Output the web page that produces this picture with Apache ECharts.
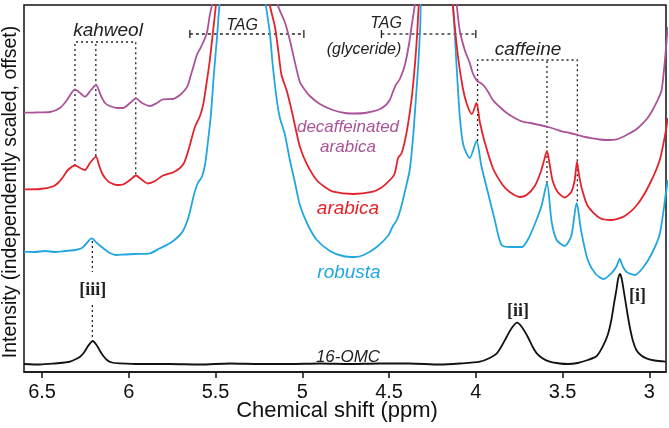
<!DOCTYPE html>
<html><head><meta charset="utf-8">
<script src="https://cdn.jsdelivr.net/npm/echarts@6/dist/echarts.min.js"></script>
<style>html,body{margin:0;padding:0;background:#fff}#c{width:669px;height:428px}</style>
</head><body><div id="c"></div>
<script>
// x tick labels (ppm)
const xTicks = [6.5, 6, 5.5, 5, 4.5, 4, 3.5, 3];
const xRange = [2.904, 6.604];
const yRange = [0, 367];

// traces: [ppm, intensity (arbitrary, offset)]; values above yRange max are clipped peaks
const decafArabica = [
[6.604,259.3],[6.541,259.5],[6.454,260],[6.397,264],[6.356,272],[6.310,282.7],[6.281,279],[6.253,275.3],[6.218,282],[6.189,287],[6.160,276],[6.137,269],[6.109,266],[6.068,264],[6.034,264],[5.993,269],[5.959,273.7],[5.924,269],[5.878,266],[5.838,269],[5.803,272.7],[5.746,273],[5.705,277],[5.677,282],[5.659,287],[5.642,297],[5.625,307],[5.608,317],[5.590,323],[5.573,329],[5.550,339],[5.533,357],[5.521,367],[5.510,392],
[5.152,392],[5.141,367],[5.101,350],[5.072,332],[5.043,310],[5.014,290],[4.985,282],[4.957,276],[4.899,268],[4.824,262],[4.755,259],[4.697,258.5],[4.640,259],[4.565,262],[4.525,266],[4.496,272],[4.478,280],[4.461,287],[4.438,293],[4.409,307],[4.386,327],[4.369,347],[4.352,367],[4.340,392],
[4.121,392],[4.110,367],[4.093,342],[4.064,322],[4.035,309],[4.018,299],[4.000,293],[3.987,290.3],[3.972,289],[3.949,285.3],[3.925,279],[3.902,272],[3.862,265],[3.822,259],[3.776,254],[3.730,250.3],[3.684,249],[3.632,247],[3.591,245.3],[3.545,243],[3.499,240.3],[3.459,239],[3.413,237],[3.367,235],[3.326,233.7],[3.286,232.5],[3.246,232],[3.188,232.7],[3.142,236],[3.113,238.7],[3.073,243],[3.038,248.7],[3.010,254],[2.981,262],[2.952,272],[2.929,282],[2.906,320],[2.894,345]
];
const arabica = [
[6.604,182.7],[6.512,183],[6.437,185.5],[6.408,189],[6.379,195],[6.351,202],[6.310,206.5],[6.281,204],[6.253,202],[6.224,209],[6.189,215.3],[6.172,207],[6.155,199],[6.132,193],[6.109,189.5],[6.068,187],[6.034,187.5],[5.993,192],[5.959,196.5],[5.930,193],[5.890,188.5],[5.849,191],[5.803,196.5],[5.746,199.5],[5.705,204],[5.682,209],[5.665,217],[5.648,227],[5.619,245],[5.590,256],[5.573,266],[5.556,284],[5.533,312],[5.515,340],[5.498,367],[5.487,392],
[5.199,392],[5.187,367],[5.158,345.3],[5.139,322],[5.120,297],[5.091,282],[5.062,262],[5.033,239],[5.014,225.3],[4.976,208.7],[4.918,192],[4.870,185],[4.822,180.3],[4.707,178],[4.592,180.3],[4.548,184],[4.515,188.7],[4.484,194],[4.467,198.7],[4.448,214],[4.428,218.7],[4.400,238.7],[4.371,272],[4.352,305.3],[4.338,338.7],[4.330,365.3],[4.323,392],
[4.144,392],[4.133,367],[4.104,317],[4.075,284],[4.052,268],[4.023,258],[3.996,269],[3.977,250],[3.949,230],[3.902,204],[3.845,187],[3.805,180],[3.747,175],[3.707,177],[3.660,186],[3.626,200],[3.606,212],[3.590,221],[3.574,207],[3.557,191],[3.528,180],[3.488,174.5],[3.450,180],[3.430,192],[3.417,210],[3.404,196],[3.390,184],[3.355,166],[3.286,154],[3.217,152],[3.142,156],[3.067,168],[2.998,188],[2.940,212],[2.906,240],[2.894,254]
];
const robusta = [
[6.604,120.3],[6.541,120],[6.483,121],[6.425,120],[6.368,121],[6.310,122],[6.270,124],[6.247,128],[6.214,133.7],[6.184,129],[6.147,123.7],[6.109,119],[6.074,117],[6.022,117.5],[5.965,118],[5.878,118.7],[5.821,123.7],[5.763,128.7],[5.717,135],[5.688,141],[5.665,150],[5.648,160],[5.625,177],[5.602,189],[5.579,195],[5.561,207],[5.544,230],[5.527,257],[5.510,297],[5.492,334],[5.478,367],[5.469,392],
[5.222,392],[5.210,367],[5.187,339],[5.170,306],[5.147,272],[5.129,254],[5.101,238],[5.072,212],[5.043,190],[5.014,167],[4.968,147],[4.916,132],[4.841,121],[4.766,116],[4.697,115],[4.646,117],[4.571,125],[4.507,136],[4.478,146],[4.455,152],[4.432,164],[4.404,184],[4.381,202],[4.363,232],[4.346,272],[4.332,307],[4.320,347],[4.311,392],
[4.144,392],[4.131,367],[4.113,312],[4.093,257],[4.072,227],[4.035,214],[3.996,231],[3.968,206],[3.931,180],[3.891,152],[3.852,127],[3.799,125],[3.735,125],[3.701,132],[3.655,150],[3.620,167],[3.590,189],[3.563,150],[3.534,132],[3.488,126],[3.450,136],[3.419,169],[3.393,141],[3.355,112],[3.309,98],[3.263,93],[3.217,99],[3.188,106],[3.171,113],[3.154,106],[3.131,100],[3.084,97],[3.038,104],[2.987,118],[2.940,138],[2.906,177],[2.894,192]
];
const omc16 = [
[6.604,8],[6.512,7.5],[6.425,8.5],[6.368,9.5],[6.339,10.3],[6.304,13],[6.281,15.3],[6.258,19.5],[6.235,26],[6.208,31],[6.184,26.5],[6.166,21],[6.149,16.5],[6.126,12],[6.097,9.5],[6.051,8.7],[5.936,8],[5.763,8],[5.590,7.5],[5.417,8.5],[5.245,8],[5.072,8],[4.899,8.5],[4.726,8],[4.553,8.5],[4.381,8.5],[4.208,7.5],[4.093,8.5],[3.977,10.3],[3.920,14],[3.879,18.7],[3.851,26],[3.822,35.3],[3.793,44],[3.762,49.3],[3.735,45],[3.701,35.3],[3.672,25],[3.649,18.7],[3.614,13.5],[3.574,10.3],[3.516,8.5],[3.470,8],[3.413,9],[3.355,12],[3.303,16],[3.269,25.3],[3.240,37],[3.219,52],[3.203,69],[3.190,82],[3.180,93],[3.169,98],[3.159,93],[3.142,75.3],[3.125,57],[3.113,45.3],[3.096,32],[3.075,22],[3.050,17],[3.017,13.7],[2.969,11.5],[2.906,10.3]
];

// annotation anchors (ppm, intensity)
const kahweolPeaks = [[6.31,206],[6.19,216],[5.96,197]];
const kahweolLevel = 330;
const caffeinePeaks = [[3.99,231],[3.59,189],[3.415,169]];
const caffeineLevel = 312;
const tagRanges = [[5.648,4.991],[4.544,4.0]];
const tagLevel = 338;
const peakIII = [6.21, 131, 100, 67, 34];

const chart = echarts.init(document.getElementById('c'), null, {renderer:'canvas'});
const ink = '#222';
const segs = [];
function seg(pts, type){ segs.push({type:'line', data:pts, showSymbol:false, silent:true, z:1, animation:false,
  lineStyle:{color:ink, width:1.3, type:type}}); }
// kahweol bracket
seg([[kahweolPeaks[0][0],kahweolPeaks[0][1]],[kahweolPeaks[0][0],kahweolLevel],[kahweolPeaks[2][0],kahweolLevel],[kahweolPeaks[2][0],kahweolPeaks[2][1]]],[2,3]);
seg([[kahweolPeaks[1][0],kahweolPeaks[1][1]],[kahweolPeaks[1][0],kahweolLevel]],[2,3]);
// caffeine bracket
seg([[caffeinePeaks[0][0],caffeinePeaks[0][1]],[caffeinePeaks[0][0],caffeineLevel],[caffeinePeaks[2][0],caffeineLevel],[caffeinePeaks[2][0],caffeinePeaks[2][1]]],[2,3]);
seg([[caffeinePeaks[1][0],caffeinePeaks[1][1]],[caffeinePeaks[1][0],caffeineLevel]],[2,3]);
// TAG brackets
tagRanges.forEach(r=>{
  seg([[r[0],tagLevel],[r[1],tagLevel]],[3,3]);
  seg([[r[0],tagLevel+4],[r[0],tagLevel-4]],'solid');
  seg([[r[1],tagLevel+4],[r[1],tagLevel-4]],'solid');
});
// [iii] guide
seg([[peakIII[0],peakIII[1]],[peakIII[0],peakIII[2]]],[2,3]);
seg([[peakIII[0],peakIII[3]],[peakIII[0],peakIII[4]]],[2,3]);

function trace(d,color){ return {type:'line', data:d, showSymbol:false, smooth:0.25, clip:true, z:3, animation:false,
  lineStyle:{color:color, width:1.8}}; }

const sans = 'Liberation Sans, Arial, sans-serif';
function txt(x,y,s,size,color,opts){ return Object.assign({type:'text', x:x, y:y, style:{text:s, fontSize:size, fontFamily:sans,
  fontStyle:'italic', fill:color, textAlign:'center', textVerticalAlign:'middle'}}, opts||{}); }
function serif(x,y,s){ return {type:'text', x:x, y:y, style:{text:s, fontSize:18, fontFamily:'Liberation Serif, serif', fontWeight:'bold',
  fill:ink, textAlign:'center', textVerticalAlign:'middle'}}; }

chart.setOption({
  animation:false,
  grid:{left:24, right:3, top:5, bottom:56, show:true, borderColor:'#111', borderWidth:1.5},
  xAxis:{type:'value', min:xRange[0], max:xRange[1], inverse:true,
    axisLine:{show:true, lineStyle:{color:'#111', width:1.5}},
    axisTick:{show:true, length:6, lineStyle:{color:'#111', width:1.5}, customValues:xTicks},
    axisLabel:{customValues:xTicks, fontSize:20, color:'#111', margin:10, fontFamily:sans},
    splitLine:{show:false}},
  yAxis:{type:'value', min:yRange[0], max:yRange[1], axisLine:{show:false}, axisTick:{show:false},
    axisLabel:{show:false}, splitLine:{show:false}},
  series: segs.concat([trace(omc16,'#111'), trace(robusta,'#22a6df'), trace(arabica,'#e3222b'), trace(decafArabica,'#ab5399')]),
  graphic:[
    txt(108,31,'kahweol',19,ink),
    txt(242,26,'TAG',16,ink),
    txt(386,24,'TAG',16,ink),
    txt(364,50,'(glyceride)',16,ink),
    txt(528,49.5,'caffeine',19,ink),
    txt(348,127.5,'decaffeinated',17,'#ab5399'),
    txt(348,147.5,'arabica',17,'#ab5399'),
    txt(348,208.5,'arabica',19,'#e3222b'),
    txt(349,273,'robusta',19,'#22a6df'),
    txt(348,357,'16-OMC',17,ink),
    serif(92.7,290.5,'[iii]'),
    serif(518,311.5,'[ii]'),
    serif(637.5,296.5,'[i]'),
    {type:'text', x:337, y:411, style:{text:'Chemical shift (ppm)', fontSize:22, fontFamily:sans, fill:'#111', textAlign:'center', textVerticalAlign:'middle'}},
    {type:'text', x:11, y:192, rotation:Math.PI/2, style:{text:'Intensity (independently scaled, offset)', fontSize:19.5, fontFamily:sans, fill:'#111', textAlign:'center', textVerticalAlign:'middle'}}
  ]
});
</script></body></html>
